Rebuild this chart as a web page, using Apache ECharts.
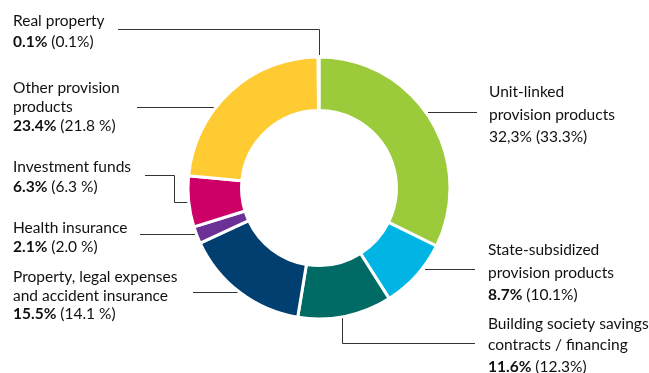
<!DOCTYPE html>
<html>
<head>
<meta charset="utf-8">
<script src="https://cdn.jsdelivr.net/npm/echarts@6/dist/echarts.min.js"></script>
<style>
html,body{margin:0;padding:0;background:#fff;}
#chart{width:649px;height:373px;}
</style>
</head>
<body>
<div id="chart"></div>
<script>
// ---- data ----
const categories = [
  'Unit-linked\nprovision products',
  'State-subsidized\nprovision products',
  'Building society savings\ncontracts / financing',
  'Property, legal expenses\nand accident insurance',
  'Health insurance',
  'Investment funds',
  'Other provision\nproducts',
  'Real property'
];
const values = [32.3, 8.7, 11.6, 15.5, 2.1, 6.3, 23.4, 0.1];
const valueLabels = ['32,3%', '8.7%', '11.6%', '15.5%', '2.1%', '6.3%', '23.4%', '0.1%'];
const priorLabels = ['(33.3%)', '(10.1%)', '(12.3%)', '(14.1 %)', '(2.0 %)', '(6.3 %)', '(21.8 %)', '(0.1%)'];
const boldValue = [false, true, true, true, true, true, true, true];

// ---- styles / layout ----
const colors = ['#9BCB3B', '#00B5E3', '#006B65', '#003F6F', '#6B3196', '#CD0067', '#FFCB33', '#9a9a9a'];
const layouts = [
  {x: 489, y: 81,    lh: 22.5, line: [[428,112.5],[452,112.5],[477,112.5]]},
  {x: 488, y: 239,   lh: 22.5, line: [[425,269.5],[450,269.5],[475,269.5]]},
  {x: 488, y: 313,   lh: 21.5, line: [[342.5,318],[342.5,343.5],[475,343.5]]},
  {x: 13,  y: 268,   lh: 18.5, line: [[238,292.5],[215,292.5],[193,292.5]]},
  {x: 13,  y: 218.5, lh: 19,   line: [[197,234.5],[170,234.5],[140,234.5]]},
  {x: 13,  y: 157,   lh: 20,   line: [[188,202.5],[174.5,202.5],[174.5,175.5],[145,175.5]]},
  {x: 13,  y: 78.5,  lh: 19,   line: [[216,107.5],[180,107.5],[137,107.5]]},
  {x: 13,  y: 10,    lh: 21,   line: [[319.5,55],[319.5,29.5],[118,29.5]]}
];
const font = 'Lato';
const fs = 15.5;
const textColor = '#111';

const data = categories.map((c, i) => {
  const L = layouts[i].lh;
  return {
    name: c,
    value: values[i],
    itemStyle: {color: colors[i]},
    label: {
      rich: {
        n: {fontFamily: font, fontSize: fs, color: textColor, lineHeight: L},
        b: {fontFamily: font, fontSize: fs, color: textColor, lineHeight: L, fontWeight: 'bold'},
        r: {fontFamily: font, fontSize: fs, color: textColor, lineHeight: L}
      }
    }
  };
});

const chart = echarts.init(document.getElementById('chart'));
chart.setOption({
  animation: false,
  backgroundColor: '#fff',
  series: [{
    type: 'pie',
    center: [319, 188],
    radius: [77.5, 131],
    startAngle: 90,
    clockwise: true,
    avoidLabelOverlap: false,
    silent: true,
    itemStyle: {borderColor: '#fff', borderWidth: 3},
    label: {
      show: true,
      position: 'outside',
      formatter: (p) => {
        const i = p.dataIndex;
        const lines = categories[i].split('\n').map(s => '{n|' + s + '}');
        lines.push('{' + (boldValue[i] ? 'b' : 'n') + '|' + valueLabels[i] + '}{r| ' + priorLabels[i] + '}');
        return lines.join('\n');
      }
    },
    labelLine: {show: true, lineStyle: {color: '#333', width: 1}},
    labelLayout: (params) => {
      const l = layouts[params.dataIndex];
      return {
        x: l.x,
        y: l.y,
        align: 'left',
        verticalAlign: 'top',
        labelLinePoints: l.line
      };
    },
    emphasis: {disabled: true},
    data: data
  }]
});
</script>
</body>
</html>
